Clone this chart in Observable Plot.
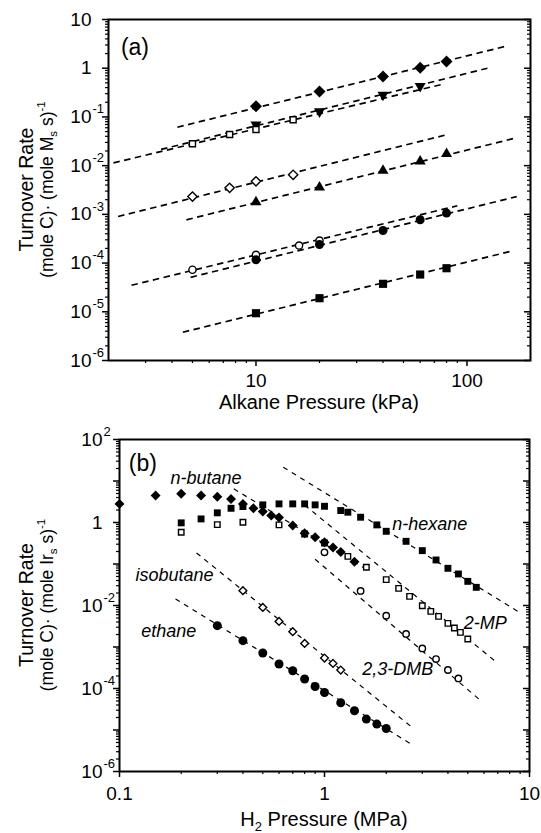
<!DOCTYPE html>
<html><head><meta charset="utf-8">
<script src="https://cdn.jsdelivr.net/npm/d3@7"></script>
<script src="https://cdn.jsdelivr.net/npm/@observablehq/plot@0.6"></script>
<style>
body{margin:0;background:#fff;}
#chart svg{display:block;}
</style></head><body><div id="chart"></div>
<script>
// ---------- Panel (a): turnover rate vs alkane pressure (kPa) ----------
const aDiamondX = [10, 20, 40, 60, 80];
const aDiamondY = [0.166, 0.333, 0.676, 1.02, 1.37];
const aDownTriX = [10, 20, 40, 60];
const aDownTriY = [0.069, 0.129, 0.284, 0.428];
const aOpenSqX = [5, 7.5, 10, 15];
const aOpenSqY = [0.0281, 0.0435, 0.0552, 0.0873];
const aOpenDiaX = [5, 7.5, 10, 15];
const aOpenDiaY = [0.00232, 0.00351, 0.00476, 0.00649];
const aUpTriX = [10, 20, 40, 60, 80];
const aUpTriY = [0.00178, 0.0036, 0.00794, 0.0122, 0.0175];
const aOpenCircX = [5, 10, 16, 20];
const aOpenCircY = [7.3e-5, 1.48e-4, 2.29e-4, 2.9e-4];
const aFillCircX = [10, 20, 40, 60, 80];
const aFillCircY = [1.17e-4, 2.4e-4, 4.66e-4, 7.73e-4, 1.06e-3];
const aFillSqX = [10, 20, 40, 60, 80];
const aFillSqY = [9.35e-6, 1.9e-5, 3.75e-5, 5.82e-5, 7.84e-5];
// dashed fit lines (end points)
const aFitX1 = [4.24, 2.11, 3.55, 2.22, 4.68, 2.57, 4.9, 4.5];
const aFitY1 = [0.0615, 0.0114, 0.0215, 9.04e-4, 7.73e-4, 3.5e-5, 5.1e-5, 3.8e-6];
const aFitX2 = [151, 75, 125, 80, 168.6, 90, 172, 161.5];
const aFitY2 = [2.79, 0.458, 1.0, 0.043, 0.0366, 1.5e-3, 2.32e-3, 1.75e-4];
// ticks
const aXLabelTicks = [10, 100];
const aXLabels = ["10", "100"];
const aXMinor = [3, 4, 5, 6, 7, 8, 9, 20, 30, 40, 50, 60, 70, 80, 90];
const aYTicks = [10, 1, 0.1, 0.01, 1e-3, 1e-4, 1e-5, 1e-6];
const aYBase = ["10", "1", "10", "10", "10", "10", "10", "10"];
const aYExp = ["", "", "-1", "-2", "-3", "-4", "-5", "-6"];

// ---------- Panel (b): turnover rate vs H2 pressure (MPa) ----------
const nButaneX = [0.1, 0.15, 0.2, 0.25, 0.3, 0.35, 0.4, 0.45, 0.5, 0.55, 0.6, 0.7, 0.8, 0.9, 1.0, 1.1, 1.2, 1.4];
const nButaneY = [2.81, 4.46, 4.9, 4.46, 4.2, 3.7, 2.81, 2.2, 1.83, 1.47, 1.32, 0.843, 0.55, 0.44, 0.333, 0.251, 0.194, 0.114];
const nHexaneX = [0.2, 0.25, 0.3, 0.35, 0.4, 0.5, 0.6, 0.7, 0.8, 0.9, 1.0, 1.2, 1.3, 1.5, 1.8, 2.0, 2.5, 3.0, 3.5, 4.0, 4.5, 5.0, 5.5];
const nHexaneY = [0.98, 1.22, 1.71, 2.2, 2.42, 2.66, 2.81, 2.81, 2.81, 2.66, 2.46, 1.94, 1.77, 1.34, 0.875, 0.614, 0.352, 0.21, 0.125, 0.0787, 0.0575, 0.0382, 0.0274];
const mp2X = [0.2, 0.3, 0.4, 0.6, 0.8, 1.0, 1.3, 1.6, 2.0, 2.3, 2.6, 3.0, 3.3, 3.6, 4.0, 4.3, 4.6, 5.0];
const mp2Y = [0.58, 0.89, 1.01, 0.875, 0.53, 0.32, 0.153, 0.0832, 0.042, 0.0259, 0.0166, 0.0099, 0.00723, 0.00547, 0.00371, 0.00287, 0.00225, 0.00156];
const dmbX = [1.0, 1.5, 2.0, 2.5, 3.0, 3.5, 4.0, 4.5];
const dmbY = [0.191, 0.0224, 0.00569, 0.00206, 9.25e-4, 5.13e-4, 2.79e-4, 1.75e-4];
const isoX = [0.4, 0.5, 0.6, 0.7, 0.8, 1.0, 1.1, 1.2];
const isoY = [0.0228, 0.009, 0.00414, 0.00234, 0.00122, 5.43e-4, 4.03e-4, 2.79e-4];
const ethX = [0.3, 0.4, 0.5, 0.6, 0.7, 0.8, 0.9, 1.0, 1.2, 1.4, 1.6, 1.8, 2.0];
const ethY = [3.27e-3, 1.42e-3, 7.16e-4, 3.89e-4, 2.68e-4, 1.69e-4, 1.12e-4, 8.03e-5, 4.54e-5, 2.91e-5, 1.83e-5, 1.39e-5, 1.09e-5];
// dashed fit lines: n-hexane, n-butane, 2-MP, 2,3-DMB, isobutane, ethane
const bFitX1 = [0.629, 0.361, 0.8, 0.9, 0.2375, 0.1876];
const bFitY1 = [21.5, 6.47, 2.64, 0.13, 0.185, 0.0144];
const bFitX2 = [8.87, 1.55, 6.82, 5.66, 2.68, 2.68];
const bFitY2 = [0.00698, 0.082, 4.5e-4, 5.57e-5, 1.15e-5, 4.4e-6];
// series labels
const bLabelText = ["n-butane", "n-hexane", "isobutane", "ethane", "2,3-DMB", "2-MP"];
const bLabelX = [0.1774, 2.14, 0.1197, 0.1276, 1.528, 4.78];
const bLabelY = [11.7, 0.927, 0.0525, 0.00238, 2.94e-4, 0.00371];
// ticks
const bXLabelTicks = [0.1, 1, 10];
const bXLabels = ["0.1", "1", "10"];
const bXMinor = [0.2, 0.3, 0.4, 0.5, 0.6, 0.7, 0.8, 0.9, 2, 3, 4, 5, 6, 7, 8, 9];
const bYTicks = [100, 1, 1e-2, 1e-4, 1e-6];
const bYBase = ["10", "1", "10", "10", "10"];
const bYExp = ["2", "", "-2", "-4", "-6"];
const bYMajor = [1e-6, 1e-5, 1e-4, 1e-3, 1e-2, 0.1, 1, 10, 100];

const FONT = "'Liberation Sans', Arial, Helvetica, sans-serif";

function decadeMinors(lo, hi) {
  const out = [];
  for (let e = lo; e < hi; e++) for (let m = 2; m <= 9; m++) out.push(m * Math.pow(10, e));
  return out;
}
const idx = a => a.map((_, i) => i);

function tickMarks(xMinor, xMajor, yMinor, yMajor, innerW) {
  const common = {tickFormat: () => "", label: null, stroke: "black"};
  return [
    Plot.axisX(xMinor, {...common, tickSize: 3, strokeWidth: 1.2}),
    Plot.axisX(xMajor, {...common, tickSize: 6, strokeWidth: 1.5}),
    Plot.axisY(yMinor, {...common, anchor: "left", tickSize: 3, strokeWidth: 1.2}),
    Plot.axisY(yMajor, {...common, anchor: "left", tickSize: 6, strokeWidth: 1.5}),
    Plot.axisY(yMinor, {...common, anchor: "left", tickSize: 3, strokeWidth: 1.2, dx: innerW}),
    Plot.axisY(yMajor, {...common, anchor: "left", tickSize: 6, strokeWidth: 1.5, dx: innerW})
  ];
}

function tickLabels(yTicks, yBase, yExp, xTicks, xLabels, xdy) {
  return [
    Plot.text(yTicks, {y: d => d, text: (d, i) => yBase[i], frameAnchor: "left", textAnchor: "end", lineAnchor: "middle", dx: -17, fontSize: 19}),
    Plot.text(yTicks, {y: d => d, text: (d, i) => yExp[i], frameAnchor: "left", textAnchor: "start", lineAnchor: "middle", dx: -16, dy: -8, fontSize: 13}),
    Plot.text(xTicks, {x: d => d, text: (d, i) => xLabels[i], frameAnchor: "bottom", lineAnchor: "top", dy: xdy, fontSize: 19})
  ];
}

function dots(X, Y, opts) {
  return Plot.dot(idx(X), {x: i => X[i], y: i => Y[i], ...opts});
}
const filled = {fill: "black", stroke: "none"};
const open = {fill: "white", stroke: "black", strokeWidth: 1.4};

// ---------- build panel (a) ----------
const aW = 541, aH = 425, aML = 108, aMR = 11, aMT = 19, aMB = 65;
const aInnerW = aW - aML - aMR;
const panelA = Plot.plot({
  width: aW, height: aH,
  marginLeft: aML, marginRight: aMR, marginTop: aMT, marginBottom: aMB,
  x: {type: "log", domain: [2, 200]},
  y: {type: "log", domain: [1e-6, 10]},
  style: {fontFamily: FONT, background: "white", color: "black", overflow: "visible"},
  marks: [
    ...tickMarks(aXMinor, aXLabelTicks, decadeMinors(-6, 1), aYTicks, aInnerW),
    Plot.frame({stroke: "black", strokeWidth: 2}),
    Plot.link(idx(aFitX1), {x1: i => aFitX1[i], y1: i => aFitY1[i], x2: i => aFitX2[i], y2: i => aFitY2[i],
      stroke: "black", strokeWidth: 1.7, strokeDasharray: "6.5,4.5"}),
    dots(aDiamondX, aDiamondY, {symbol: "diamond2", r: 5.4, ...filled}),
    dots(aDownTriX, aDownTriY, {symbol: "triangle", r: 4.1, rotate: 180, ...filled}),
    dots(aOpenSqX, aOpenSqY, {symbol: "square", r: 3.4, ...open}),
    dots(aOpenDiaX, aOpenDiaY, {symbol: "diamond2", r: 4.2, ...open}),
    dots(aUpTriX, aUpTriY, {symbol: "triangle", r: 4.1, ...filled}),
    dots(aOpenCircX, aOpenCircY, {symbol: "circle", r: 3.6, ...open}),
    dots(aFillCircX, aFillCircY, {symbol: "circle", r: 4.5, ...filled}),
    dots(aFillSqX, aFillSqY, {symbol: "square", r: 4.6, ...filled}),
    Plot.text(["(a)"], {x: () => 2.29, y: () => 2.7, text: d => d, textAnchor: "start", lineAnchor: "middle", fontSize: 23}),
    ...tickLabels(aYTicks, aYBase, aYExp, aXLabelTicks, aXLabels, 12.5)
  ]
});

// ---------- build panel (b) ----------
const bW = 541, bH = 408, bML = 119, bMR = 12, bMT = 14, bMB = 62;
const bInnerW = bW - bML - bMR;
const panelB = Plot.plot({
  width: bW, height: bH,
  marginLeft: bML, marginRight: bMR, marginTop: bMT, marginBottom: bMB,
  x: {type: "log", domain: [0.1, 10]},
  y: {type: "log", domain: [1e-6, 100]},
  style: {fontFamily: FONT, background: "white", color: "black", overflow: "visible"},
  marks: [
    ...tickMarks(bXMinor, bXLabelTicks, decadeMinors(-6, 2), bYMajor, bInnerW),
    Plot.frame({stroke: "black", strokeWidth: 2}),
    Plot.link(idx(bFitX1), {x1: i => bFitX1[i], y1: i => bFitY1[i], x2: i => bFitX2[i], y2: i => bFitY2[i],
      stroke: "black", strokeWidth: 1.2, strokeDasharray: "5,5"}),
    dots(nHexaneX, nHexaneY, {symbol: "square", r: 3.9, ...filled}),
    dots(mp2X, mp2Y, {symbol: "square", r: 3.1, ...open}),
    dots(nButaneX, nButaneY, {symbol: "diamond2", r: 4.5, ...filled}),
    dots(dmbX, dmbY, {symbol: "circle", r: 3.2, ...open}),
    dots(isoX, isoY, {symbol: "diamond2", r: 3.5, ...open}),
    dots(ethX, ethY, {symbol: "circle", r: 4.5, ...filled}),
    Plot.text(bLabelText, {x: (d, i) => bLabelX[i], y: (d, i) => bLabelY[i], text: d => d, textAnchor: "start", lineAnchor: "middle", fontSize: 18, fontStyle: "italic"}),
    Plot.text(["(b)"], {x: () => 0.111, y: () => 25.9, text: d => d, textAnchor: "start", lineAnchor: "middle", fontSize: 23}),
    ...tickLabels(bYTicks, bYBase, bYExp, bXLabelTicks, bXLabels, 15)
  ]
});

// ---------- axis titles with sub/superscripts ----------
function yTitle(svg, cy, metal) {
  const s = d3.select(svg);
  s.append("text").attr("transform", `translate(33,${cy}) rotate(-90)`)
    .attr("text-anchor", "middle").attr("font-size", 19.5).attr("fill", "black").text("Turnover Rate");
  const t = s.append("text").attr("transform", `translate(53,${cy}) rotate(-90)`)
    .attr("text-anchor", "middle").attr("font-size", 17.5).attr("fill", "black");
  t.append("tspan").text("(mole C)\u00B7 (mole " + metal);
  t.append("tspan").attr("font-size", 11.5).attr("dy", 4).text("s");
  t.append("tspan").attr("dy", -4).text(" s)");
  t.append("tspan").attr("font-size", 11.5).attr("dy", -8).text("-1");
}
function xTitle(svg, cx, by, parts) {
  const t = d3.select(svg).append("text").attr("x", cx).attr("y", by)
    .attr("text-anchor", "middle").attr("font-size", 20).attr("fill", "black");
  parts.forEach(p => {
    const ts = t.append("tspan").text(p.t);
    if (p.fs) ts.attr("font-size", p.fs);
    if (p.dy) ts.attr("dy", p.dy);
  });
}
yTitle(panelA, (aMT + aH - aMB) / 2, "M");
xTitle(panelA, aML + aInnerW / 2, 409, [{t: "Alkane Pressure (kPa)"}]);
yTitle(panelB, (bMT + bH - bMB) / 2, "Ir");
xTitle(panelB, bML + bInnerW / 2, 401, [{t: "H"}, {t: "2", fs: 13, dy: 5}, {t: " Pressure (MPa)", dy: -5}]);

document.getElementById("chart").append(panelA, panelB);
</script></body></html>
